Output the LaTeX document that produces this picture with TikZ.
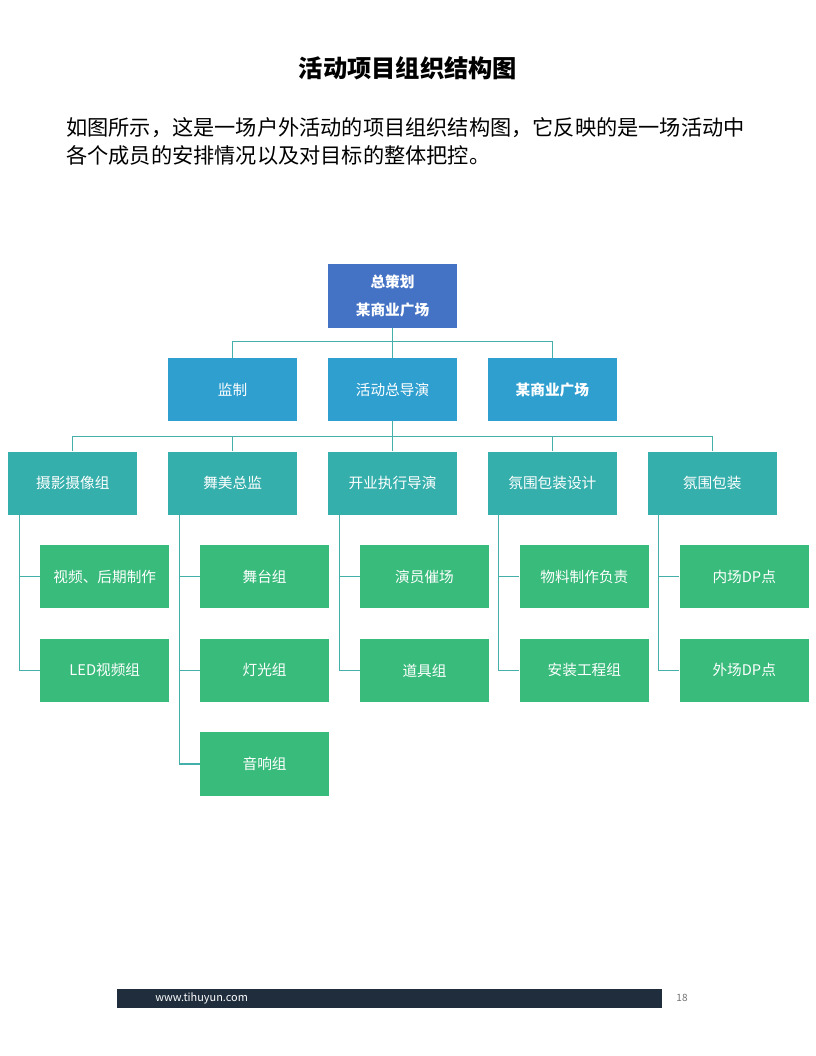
\documentclass[tikz,border=0pt]{standalone}
\usepackage{fontspec}
\setmainfont{Noto Sans CJK SC}
\usepackage{tikz}
\usetikzlibrary{positioning}

\definecolor{topblue}{HTML}{4472C4}
\definecolor{midblue}{HTML}{2F9FD0}
\definecolor{grpteal}{HTML}{35AFAC}
\definecolor{leafgreen}{HTML}{38BB7B}
\definecolor{linecol}{HTML}{45B0AA}
\definecolor{footbar}{HTML}{1F2D3D}

\begin{document}
\begin{tikzpicture}[
  x=0.75pt, y=-0.75pt,
  box/.style={rectangle, minimum width=97pt, minimum height=47.3pt,
              align=center, text=white, inner sep=0pt,
              font=\fontsize{11}{14}\selectfont},
  topbox/.style={box, fill=topblue, font=\fontsize{11}{21.5}\selectfont\bfseries},
  lead/.style={box, fill=midblue},
  group/.style={box, fill=grpteal},
  leaf/.style={box, fill=leafgreen},
  conn/.style={draw=linecol, line width=0.8pt},
  node distance=22.5pt and 22.5pt
]
  \useasboundingbox (0,0) rectangle (816,1056);

  % heading and text
  \node[font=\fontsize{18.2}{22}\selectfont\bfseries] (title) at (408,68) {活动项目组织结构图};
  \node[anchor=west, align=left, inner sep=0pt, font=\fontsize{15.9}{21}\selectfont]
    (intro) at (66,141) {如图所示，这是一场户外活动的项目组织结构图，它反映的是一场活动中\\各个成员的安排情况以及对目标的整体把控。};

  % tree
  \node[topbox] (top) at (392.5,296) {总策划\\某商业广场};
  \node[lead, below=of top] (dir) {活动总导演};
  \node[lead, left=of dir]  (jz)  {监制};
  \node[lead, right=of dir, font=\fontsize{11}{14}\selectfont\bfseries] (sc) {某商业广场};

  \node[group, below=of dir] (g3) {开业执行导演};
  \node[group, left=of g3]   (g2) {舞美总监};
  \node[group, left=of g2]   (g1) {摄影摄像组};
  \node[group, right=of g3]  (g4) {氛围包装设计};
  \node[group, right=of g4]  (g5) {氛围包装};

  \node[leaf, below=of g1, xshift=24pt] (c11) {视频、后期制作};
  \node[leaf, below=of c11] (c12) {LED视频组};
  \node[leaf, below=of g2, xshift=24pt] (c21) {舞台组};
  \node[leaf, below=of c21] (c22) {灯光组};
  \node[leaf, below=of c22] (c23) {音响组};
  \node[leaf, below=of g3, xshift=24pt] (c31) {演员催场};
  \node[leaf, below=of c31] (c32) {道具组};
  \node[leaf, below=of g4, xshift=24pt] (c41) {物料制作负责};
  \node[leaf, below=of c41] (c42) {安装工程组};
  \node[leaf, below=of g5, xshift=24pt] (c51) {内场DP点};
  \node[leaf, below=of c51] (c52) {外场DP点};

  \draw[conn] (top.south) -- ++(0,14) -| (jz.north);
  \draw[conn] (top.south) -- (dir.north);
  \draw[conn] (top.south) -- ++(0,14) -| (sc.north);

  \foreach \g in {g1,g2,g3,g4,g5}
    \draw[conn] (dir.south) -- ++(0,15) -| (\g.north);

  \foreach \g/\c in {g1/c11,g1/c12,g2/c21,g2/c22,g2/c23,g3/c31,g3/c32,g4/c41,g4/c42,g5/c51,g5/c52}
    \draw[conn] ([xshift=8.6pt]\g.south west) |- (\c.west);

  % footer
  \fill[footbar] (117,989) rectangle (662,1008);
  \node[anchor=west, inner sep=0pt, text=white, font=\fontsize{8.2}{10}\selectfont] (site) at (155,998.5) {www.tihuyun.com};
  \node[text=black!55, font=\fontsize{7.5}{9}\selectfont] (page) at (682,998) {18};
\end{tikzpicture}
\end{document}
